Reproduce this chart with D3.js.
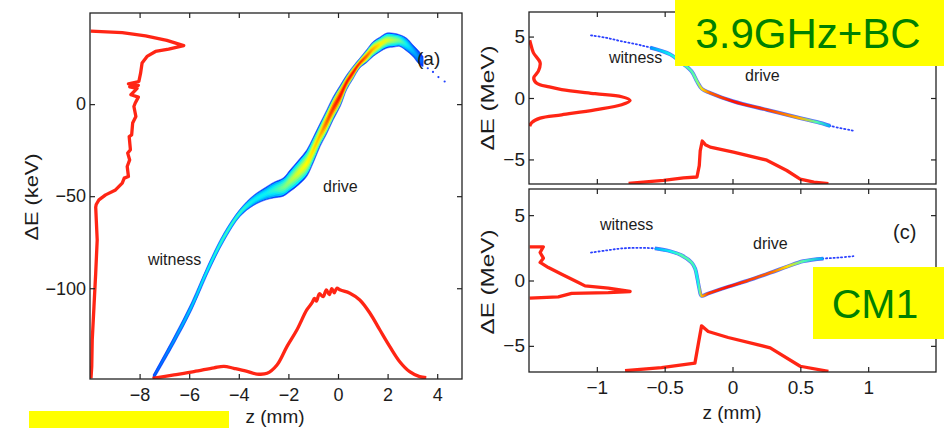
<!DOCTYPE html>
<html>
<head>
<meta charset="utf-8">
<script src="https://cdn.jsdelivr.net/npm/d3@7"></script>
<style>
  body { margin: 0; background: #fff; }
  svg text { font-family: "Liberation Sans", Arial, sans-serif; fill: #1c1c1c; }
</style>
</head>
<body>
<svg id="chart" width="944" height="428"></svg>
<script>
// ---- panel (a): longitudinal phase space, keV ----
const bandZ    = [-7.45,-6.6,-5.9,-5.25,-4.6,-3.95,-3.4,-2.9,-2.6,-2.2,-1.93,-1.6,-1.26,-1.0,-0.72,-0.45,-0.19,0.1,0.35,0.6,0.88,1.15,1.42,1.7,1.96,2.25,2.49,2.75,3.02,3.25,3.43];
const bandLo   = [-150,-130,-112,-92,-74.5,-61,-55,-52,-51,-50,-47.5,-44,-39.3,-32,-23,-16,-8.5,-1,7.8,13.5,19.6,22.5,25.9,28.5,30.4,31,31.3,29,25.9,22,20.4];
const bandHi   = [-147,-126,-107.5,-87.5,-70,-57,-49.5,-45,-42.5,-40,-35.7,-30.5,-24.8,-18,-10.3,-3,4.1,10.5,15.9,20.5,25,29.5,34,36.5,38.6,38.5,37.7,36,32.2,29,25.9];
const bandDens = [0.12,0.22,0.32,0.42,0.48,0.48,0.4,0.4,0.45,0.55,0.6,0.66,0.7,0.74,0.8,0.9,0.96,1.0,1.0,1.0,0.97,0.9,0.8,0.72,0.66,0.6,0.54,0.4,0.28,0.18,0.1];
const tailZ_a  = [3.62, 3.83, 4.05, 4.3];
const tailE_a  = [19.5, 17.5, 14.7, 12.3];

// energy spectrum drawn against the left edge (z = histogram height)
const specZ_a = [-9.97,-8.70,-7.76,-6.90,-6.22,-6.83,-7.36,-7.70,-7.90,-7.96,-8.03,-8.45,-8.05,-8.40,-8.10,-8.35,-8.05,-8.18,-8.23,-8.15,-8.28,-8.32,-8.42,-8.37,-8.48,-8.40,-8.50,-8.45,-8.62,-8.70,-8.97,-9.37,-9.64,-9.75,-9.77,-9.71,-9.77,-9.84,-9.91,-9.93,-9.96];
const specE_a = [39.6,38.8,37.1,34.6,31.8,29.9,28.6,25.9,22.3,16.8,12.3,11.0,10.2,9.4,8.6,5.1,3.8,0.5,-1.3,-6.7,-10.3,-16.7,-17.6,-24.8,-26.6,-30.3,-33.9,-39.3,-40.2,-42.9,-46.6,-49.3,-52,-54.5,-56,-73.8,-91.8,-110,-128.1,-142.6,-149];

// current profile drawn against the bottom edge
const curZ_a = [-7.48,-6.61,-5.81,-5.0,-4.6,-4.2,-3.7,-3.27,-2.86,-2.46,-2.06,-1.66,-1.26,-1.05,-0.95,-0.87,-0.75,-0.6,-0.47,-0.35,-0.25,-0.15,-0.05,0.1,0.48,0.88,1.29,1.69,2.09,2.49,2.89,3.29,3.56];
const curE_a = [-149,-147.1,-145.3,-143.2,-142.4,-143.5,-145,-146.6,-146.2,-141.7,-131.7,-122.7,-111.8,-108,-105.5,-107,-103,-104.6,-100.9,-103.5,-100.2,-102.5,-100,-101,-102.7,-106.4,-113.6,-122.7,-131.7,-139.9,-145.3,-148,-148.6];

// ---- top right: 3.9GHz+BC, MeV ----
const beamZ_b    = [-1.043,-0.93,-0.827,-0.7,-0.606,-0.459,-0.375,-0.302,-0.262,-0.225,-0.164,0.007,0.253,0.499,0.62,0.72,0.891];
const beamE_b    = [5.1,4.9,4.64,4.35,4.10,3.55,2.87,2.18,1.36,0.74,0.41,-0.28,-0.96,-1.64,-1.95,-2.27,-2.66];
const beamDens_b = [0.05,0.07,0.1,0.15,0.22,0.4,0.5,0.5,0.55,0.75,0.9,1.0,0.95,0.8,0.5,0.25,0.05];
const specZ_b = [-1.495,-1.49,-1.468,-1.418,-1.431,-1.465,-1.443,-1.35,-1.259,-1.013,-0.817,-0.755,-0.817,-1.013,-1.259,-1.418,-1.48,-1.495];
const specE_b = [4.7,4.51,3.69,2.87,2.18,1.64,1.2,0.9,0.68,0.35,0.1,-0.2,-0.55,-0.96,-1.37,-1.64,-2.0,-2.3];
const curZ_b = [-0.766,-0.508,-0.361,-0.262,-0.245,-0.238,-0.223,-0.2,-0.164,0.007,0.253,0.4,0.499,0.6,0.707];
const curE_b = [-6.95,-6.70,-6.50,-6.43,-5.5,-4.3,-3.5,-3.8,-4.0,-4.4,-5.06,-5.9,-6.6,-6.85,-6.97];

// ---- bottom right (c): CM1, MeV ----
const beamZ_c    = [-1.043,-0.93,-0.817,-0.7,-0.572,-0.459,-0.38,-0.302,-0.275,-0.258,-0.245,-0.228,-0.179,-0.032,0.1,0.278,0.4,0.523,0.67,0.78,0.891];
const beamE_c    = [2.14,2.3,2.45,2.5,2.45,2.24,1.95,1.38,0.9,0.1,-0.6,-1.17,-0.99,-0.48,-0.05,0.59,1.05,1.48,1.68,1.75,1.86];
const beamDens_c = [0.05,0.08,0.12,0.16,0.25,0.4,0.5,0.5,0.45,0.4,0.5,0.8,0.95,1.0,0.95,0.9,0.75,0.5,0.25,0.1,0.05];
const specZ_c = [-1.495,-1.394,-1.418,-1.394,-1.418,-1.357,-1.259,-1.136,-1.087,-0.915,-0.755,-0.915,-1.186,-1.284,-1.495];
const specE_c = [2.58,2.58,2.14,1.71,1.38,0.99,0.48,-0.15,-0.41,-0.59,-0.84,-0.92,-0.99,-1.25,-1.35];
const curZ_c = [-0.792,-0.523,-0.277,-0.248,-0.228,-0.179,-0.032,0.278,0.499,0.707];
const curE_c = [-6.9,-6.66,-6.32,-4.62,-3.47,-3.90,-4.36,-5.15,-6.56,-6.95];

const ticksZ_a = [-8,-6,-4,-2,0,2,4];
const ticksE_a = [-100,-50,0];
const ticksZ_r = [-1,-0.5,0,0.5,1];
const ticksE_r = [-5,0,5];

const svg = d3.select("#chart");
const RED = "#ff1200";

const jet = d3.scaleLinear()
  .domain([0, .2, .38, .55, .7, .85, 1])
  .range(["#0018ff","#0090ff","#00eeff","#70ff90","#ffff00","#ff9000","#ff1000"]);

const zip = (a, b) => a.map((v, i) => [v, b[i]]);

function frame(g, x, y, xt, yt, showX, fs) {
  const [x0, x1] = x.range(), [y1, y0] = y.range();
  const fmt = d => d3.format("")(d);
  g.append("g").attr("transform", `translate(0,${y1})`)
    .call(d3.axisBottom(x).tickValues(xt).tickSize(-5).tickPadding(showX ? 9 : 0).tickFormat(showX ? fmt : ""));
  g.append("g").attr("transform", `translate(0,${y0})`)
    .call(d3.axisTop(x).tickValues(xt).tickSize(-5).tickFormat(""));
  g.append("g").attr("transform", `translate(${x0},0)`)
    .call(d3.axisLeft(y).tickValues(yt).tickSize(-5).tickPadding(4).tickFormat(fmt));
  g.append("g").attr("transform", `translate(${x1},0)`)
    .call(d3.axisRight(y).tickValues(yt).tickSize(-5).tickFormat(""));
  g.selectAll(".domain").remove();
  g.selectAll(".tick line").attr("stroke", "#222").attr("stroke-width", 1.2);
  g.selectAll(".tick text").style("font-size", fs + "px").attr("fill", "#1c1c1c");
  g.append("rect").attr("x", x0).attr("y", y0).attr("width", x1 - x0).attr("height", y1 - y0)
    .attr("fill", "none").attr("stroke", "#222").attr("stroke-width", 1.3);
}

function clip(id, x, y) {
  const [x0, x1] = x.range(), [y1, y0] = y.range();
  svg.append("clipPath").attr("id", id).append("rect")
    .attr("x", x0).attr("y", y0).attr("width", x1 - x0).attr("height", y1 - y0);
  return svg.append("g").attr("clip-path", `url(#${id})`);
}

function redLine(g, x, y, zs, es, smooth) {
  const line = d3.line().x(d => x(d[0])).y(d => y(d[1]));
  if (smooth) line.curve(d3.curveCatmullRom.alpha(0.5));
  g.append("path").datum(zip(zs, es))
    .attr("d", line)
    .attr("fill", "none").attr("stroke", RED).attr("stroke-width", 3.3)
    .attr("stroke-linejoin", "round").attr("stroke-opacity", 0.92);
}

function gradient(id, x, zs, vals) {
  const lg = svg.append("defs").append("linearGradient").attr("id", id)
    .attr("gradientUnits", "userSpaceOnUse")
    .attr("x1", x(zs[0])).attr("x2", x(zs[zs.length - 1])).attr("y1", 0).attr("y2", 0);
  const span = x(zs[zs.length - 1]) - x(zs[0]);
  zs.forEach((z, i) => lg.append("stop")
    .attr("offset", (x(z) - x(zs[0])) / span).attr("stop-color", jet(vals[i])));
}

// ================= panel (a) =================
const xa = d3.scaleLinear().domain([-10, 5]).range([90, 462]);
const ya = d3.scaleLinear().domain([-149.3, 49.5]).range([379, 13]);
const ga = clip("clipA", xa, ya);

const band = bandZ.map((z, i) => ({ z, mid: (bandLo[i] + bandHi[i]) / 2, half: (bandHi[i] - bandLo[i]) / 2, d: bandDens[i] }));
const layers = [[1.0, 0.08], [0.86, 0.58], [0.64, 0.78], [0.42, 0.92], [0.2, 1.0]];
layers.forEach(([f, g], k) => {
  gradient("bandGrad" + k, xa, bandZ, bandDens.map(d => d * g));
  ga.append("path").datum(band)
    .attr("d", d3.area().curve(d3.curveCatmullRom)
      .x(d => xa(d.z)).y0(d => ya(d.mid - f * d.half)).y1(d => ya(d.mid + f * d.half)))
    .attr("fill", `url(#bandGrad${k})`)
    .attr("stroke", k === 0 ? "#2a50ff" : "none").attr("stroke-width", 0.6);
});
ga.selectAll("circle.tail").data(zip(tailZ_a, tailE_a)).enter().append("circle")
  .attr("cx", d => xa(d[0])).attr("cy", d => ya(d[1])).attr("r", 1.1).attr("fill", "#2040ff");

redLine(ga, xa, ya, specZ_a, specE_a, false);
redLine(ga, xa, ya, curZ_a, curE_a, true);

const fa = svg.append("g");
frame(fa, xa, ya, ticksZ_a, ticksE_a, true, 18);

svg.append("text").attr("x", 148).attr("y", 265).style("font-size", "16px").text("witness");
svg.append("text").attr("x", 323).attr("y", 192).style("font-size", "16px").text("drive");
svg.append("text").attr("x", 417).attr("y", 65).style("font-size", "19px").text("(a)");
svg.append("text").attr("x", 275).attr("y", 423).attr("text-anchor", "middle").style("font-size", "19px").text("z (mm)");
svg.append("text").attr("transform", "translate(38,197) rotate(-90)").attr("text-anchor", "middle")
  .attr("textLength", 87).attr("lengthAdjust", "spacingAndGlyphs").style("font-size", "18px").text("ΔE (keV)");

// ================= right panels =================
const xr = d3.scaleLinear().domain([-1.5, 1.5]).range([529, 936]);
const yb = d3.scaleLinear().domain([-7, 7]).range([184, 12]);
const yc = d3.scaleLinear().domain([-7, 7]).range([372, 189]);

function beam(g, y, zs, es, ds, id) {
  const pts = zs.map((z, i) => ({ z, e: es[i], d: ds[i] }));
  const line = d3.line().curve(d3.curveCatmullRom).x(p => xr(p.z)).y(p => y(p.e));
  g.append("path").datum(pts).attr("d", line)
    .attr("fill", "none").attr("stroke", "#2a40ff").attr("stroke-width", 1.8)
    .attr("stroke-dasharray", "1.2 2.6").attr("stroke-linecap", "round");
  const dense = pts.filter(p => p.d >= 0.2);
  g.append("path").datum(dense).attr("d", line)
    .attr("fill", "none").attr("stroke", "#2a48ff").attr("stroke-width", 3.8).attr("stroke-opacity", 0.8);
  gradient(id, xr, dense.map(p => p.z), dense.map(p => p.d));
  g.append("path").datum(dense).attr("d", line)
    .attr("fill", "none").attr("stroke", `url(#${id})`).attr("stroke-width", 2.6);
}

const gb = clip("clipB", xr, yb);
beam(gb, yb, beamZ_b, beamE_b, beamDens_b, "beamGradB");
redLine(gb, xr, yb, specZ_b, specE_b, true);
redLine(gb, xr, yb, curZ_b, curE_b, false);
frame(svg.append("g"), xr, yb, ticksZ_r, ticksE_r, false, 19);

const gc = clip("clipC", xr, yc);
beam(gc, yc, beamZ_c, beamE_c, beamDens_c, "beamGradC");
redLine(gc, xr, yc, specZ_c, specE_c, false);
redLine(gc, xr, yc, curZ_c, curE_c, false);
frame(svg.append("g"), xr, yc, ticksZ_r, ticksE_r, true, 19);

svg.append("text").attr("x", 609).attr("y", 63).style("font-size", "16px").text("witness");
svg.append("text").attr("x", 745).attr("y", 81).style("font-size", "16px").text("drive");
svg.append("text").attr("x", 600).attr("y", 230).style("font-size", "16px").text("witness");
svg.append("text").attr("x", 753).attr("y", 249).style("font-size", "16px").text("drive");
svg.append("text").attr("x", 893).attr("y", 239).style("font-size", "20px").text("(c)");
svg.append("text").attr("x", 732).attr("y", 419).attr("text-anchor", "middle").style("font-size", "19px").text("z (mm)");
svg.append("text").attr("transform", "translate(494,98) rotate(-90)").attr("text-anchor", "middle")
  .attr("textLength", 105).attr("lengthAdjust", "spacingAndGlyphs").style("font-size", "19px").text("ΔE (MeV)");
svg.append("text").attr("transform", "translate(494,282) rotate(-90)").attr("text-anchor", "middle")
  .attr("textLength", 105).attr("lengthAdjust", "spacingAndGlyphs").style("font-size", "19px").text("ΔE (MeV)");

// ---- yellow highlight boxes ----
svg.append("rect").attr("x", 675).attr("y", 0).attr("width", 269).attr("height", 66).attr("fill", "#ffff00");
svg.append("text").attr("x", 808).attr("y", 48).attr("text-anchor", "middle")
  .style("font-size", "42px").style("fill", "#008000").text("3.9GHz+BC");
svg.append("rect").attr("x", 813).attr("y", 267).attr("width", 131).attr("height", 72).attr("fill", "#ffff00");
svg.append("text").attr("x", 875).attr("y", 318).attr("text-anchor", "middle")
  .style("font-size", "41px").style("fill", "#008000").text("CM1");
svg.append("rect").attr("x", 29).attr("y", 411).attr("width", 200).attr("height", 17).attr("fill", "#ffff00");
</script>
</body>
</html>
